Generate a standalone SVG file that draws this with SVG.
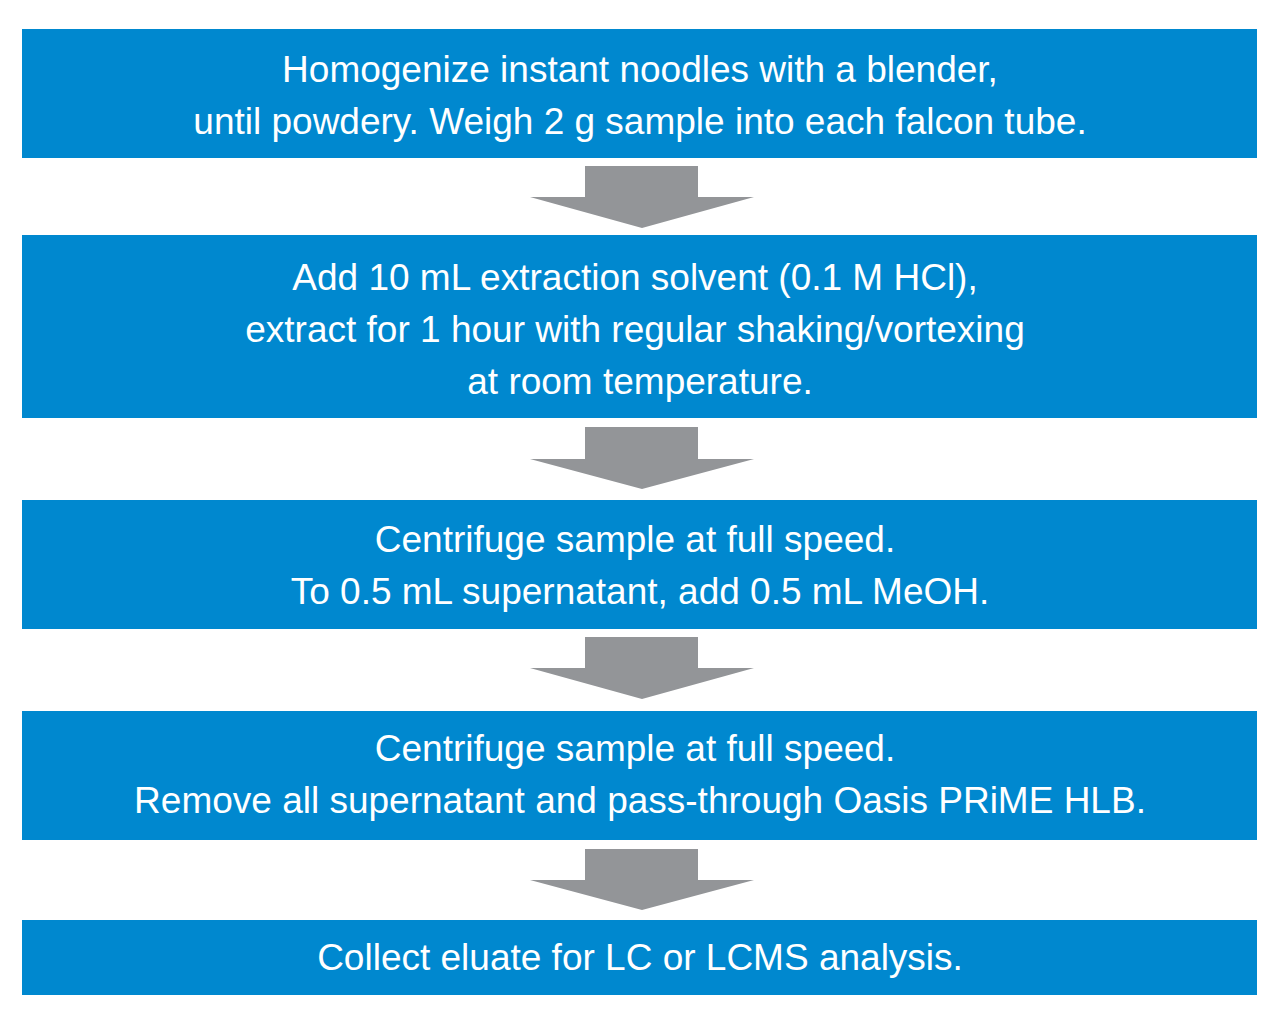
<svg xmlns="http://www.w3.org/2000/svg" width="1280" height="1025" viewBox="0 0 1280 1025">
<style>
.box{fill:#0088cf}
.t{font-family:"Liberation Sans",Arial,sans-serif;font-size:37px;fill:#fff;text-anchor:middle}
.ar{fill:#939598}
</style>
<rect width="1280" height="1025" fill="#fff"/>
<g id="connectors">
<polygon class="ar" points="585,166 698,166 698,197 754,197 642,228 530,197 585,197"/>
<polygon class="ar" points="585,427 698,427 698,459 754,459 642,489 530,459 585,459"/>
<polygon class="ar" points="585,637 698,637 698,668 754,668 642,699 530,668 585,668"/>
<polygon class="ar" points="585,849 698,849 698,880 754,880 642,910 530,880 585,880"/>
</g>
<g id="n1"><rect class="box" x="22" y="29" width="1235" height="129"/>
<text class="t" x="640" y="82">Homogenize instant noodles with a blender,</text>
<text class="t" x="640" y="134">until powdery. Weigh 2 g sample into each falcon tube.</text></g>
<g id="n2"><rect class="box" x="22" y="235" width="1235" height="183"/>
<text class="t" x="635" y="290">Add 10 mL extraction solvent (0.1 M HCl),</text>
<text class="t" x="635" y="342">extract for 1 hour with regular shaking/vortexing</text>
<text class="t" x="640" y="394">at room temperature.</text></g>
<g id="n3"><rect class="box" x="22" y="500" width="1235" height="129"/>
<text class="t" x="635" y="552">Centrifuge sample at full speed.</text>
<text class="t" x="640" y="604">To 0.5 mL supernatant, add 0.5 mL MeOH.</text></g>
<g id="n4"><rect class="box" x="22" y="711" width="1235" height="129"/>
<text class="t" x="635" y="761">Centrifuge sample at full speed.</text>
<text class="t" x="640" y="813">Remove all supernatant and pass-through Oasis PRiME HLB.</text></g>
<g id="n5"><rect class="box" x="22" y="920" width="1235" height="75"/>
<text class="t" x="640" y="970">Collect eluate for LC or LCMS analysis.</text></g>
</svg>
